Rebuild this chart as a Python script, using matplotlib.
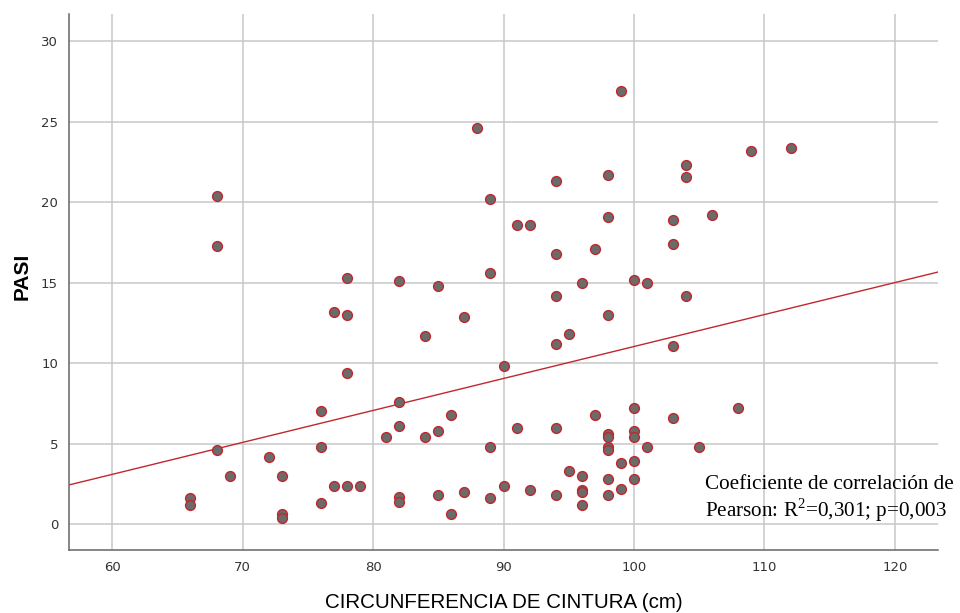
import numpy as np
import matplotlib.pyplot as plt

plt.rcParams['mathtext.fontset'] = 'custom'
plt.rcParams['mathtext.rm'] = 'Liberation Serif'

# waist circumference (cm) and PASI score
cintura = [66, 66, 68, 68, 68, 69, 72, 73, 73, 73,
           76, 76, 76, 77, 77, 78, 78, 78, 78, 79,
           81, 82, 82, 82, 82, 82, 84, 84, 85, 85,
           85, 86, 86, 87, 87, 88, 89, 89, 89, 89,
           90, 90, 91, 91, 92, 92, 94, 94, 94, 94,
           94, 94, 95, 95, 96, 96, 96, 96, 96, 97,
           97, 98, 98, 98, 98, 98, 98, 98, 98, 98,
           99, 99, 99, 100, 100, 100, 100, 100, 100, 101,
           101, 103, 103, 103, 103, 104, 104, 104, 105, 106,
           108, 109, 112]
pasi = [1.6, 1.2, 20.4, 17.3, 4.6, 3.0, 4.2, 3.0, 0.6, 0.4,
        7.0, 4.8, 1.3, 13.2, 2.4, 15.3, 13.0, 9.4, 2.4, 2.4,
        5.4, 15.1, 7.6, 6.1, 1.7, 1.4, 11.7, 5.4, 14.8, 5.8,
        1.8, 6.8, 0.6, 12.9, 2.0, 24.6, 20.2, 15.6, 4.8, 1.6,
        9.8, 2.4, 18.6, 6.0, 18.6, 2.1, 21.3, 16.8, 14.2, 11.2,
        6.0, 1.8, 11.8, 3.3, 15.0, 3.0, 2.1, 2.0, 1.2, 17.1,
        6.8, 21.7, 19.1, 13.0, 5.6, 5.4, 4.8, 4.6, 2.8, 1.8,
        26.9, 3.8, 2.2, 15.2, 7.2, 5.8, 5.4, 3.9, 2.8, 15.0,
        4.8, 18.9, 17.4, 11.1, 6.6, 22.3, 21.6, 14.2, 4.8, 19.2,
        7.2, 23.2, 23.4]

x_ticks = [60, 70, 80, 90, 100, 110, 120]
y_ticks = [0, 5, 10, 15, 20, 25, 30]
x_lim = (56.7, 123.3)
y_lim = (-1.6, 31.7)

nota = "Coeficiente de correlación de\nPearson: R$^{2}$=0,301; p=0,003"

fig = plt.figure(figsize=(9.6, 6.13), dpi=100)
ax = fig.add_axes([0.072, 0.103, 0.905, 0.874])

ax.set_xlim(x_lim)
ax.set_ylim(y_lim)
ax.set_xticks(x_ticks)
ax.set_yticks(y_ticks)
ax.grid(True, color='#c8c8c8', linewidth=1.1)
ax.set_axisbelow(True)

for side in ['top', 'right']:
    ax.spines[side].set_visible(False)
for side in ['left', 'bottom']:
    ax.spines[side].set_color('#666666')
    ax.spines[side].set_linewidth(1.1)
ax.tick_params(length=0, labelsize=9.5, labelcolor='#333333', pad=8)

# fit line over the full x range
slope, intercept = np.polyfit(cintura, pasi, 1)
xs = np.array(x_lim)
ax.plot(xs, intercept + slope * xs, color='#c0282d', linewidth=1.0, zorder=2)

ax.scatter(cintura, pasi, s=50, facecolor='#6b6b6b', edgecolor='#c0282d',
           linewidth=1.0, zorder=3)

ax.set_xlabel('CIRCUNFERENCIA DE CINTURA (cm)', fontsize=14.8,
              family='Liberation Sans', labelpad=14)
ax.set_ylabel('PASI', fontsize=15, family='Liberation Sans',
              fontweight='bold', labelpad=10)
ax.yaxis.set_label_coords(-0.043, 0.51)

fig.text(0.734, 0.225, nota, family='Liberation Serif', fontsize=15.2,
         linespacing=1.1, va='top', ha='left')

fig.savefig('out.png', dpi=100)
